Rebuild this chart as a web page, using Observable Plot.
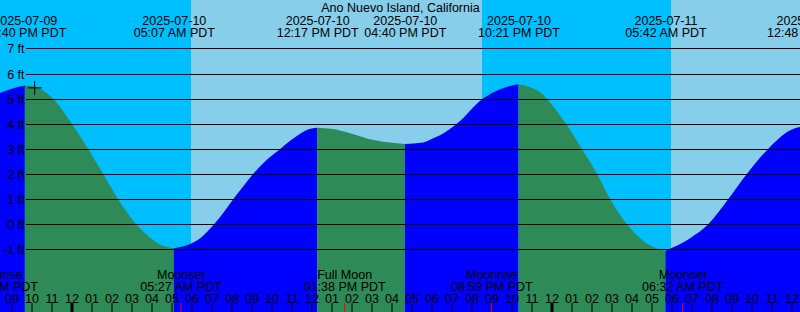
<!DOCTYPE html>
<html>
<head>
<meta charset="utf-8">
<script src="https://cdn.jsdelivr.net/npm/d3@7"></script>
<script src="https://cdn.jsdelivr.net/npm/@observablehq/plot@0.6"></script>
<style>
  html, body { margin: 0; padding: 0; overflow: hidden; background: #fff; color: #000; }
</style>
</head>
<body>
<div id="chart"></div>
<script>
// ---------- data (local PDT clock times) ----------
const title = "Ano Nuevo Island, California";

const tideTimes = [
  "2025-07-09T20:25", "2025-07-09T21:05", "2025-07-09T21:40", "2025-07-09T22:05",
  "2025-07-09T23:05", "2025-07-10T00:01", "2025-07-10T00:50", "2025-07-10T01:35",
  "2025-07-10T02:17", "2025-07-10T03:11", "2025-07-10T03:56", "2025-07-10T04:26",
  "2025-07-10T05:07", "2025-07-10T05:56", "2025-07-10T06:26", "2025-07-10T07:11",
  "2025-07-10T07:35", "2025-07-10T08:05", "2025-07-10T08:35", "2025-07-10T09:05",
  "2025-07-10T09:46", "2025-07-10T10:26", "2025-07-10T10:56", "2025-07-10T11:25",
  "2025-07-10T11:46", "2025-07-10T12:17", "2025-07-10T13:05", "2025-07-10T13:56",
  "2025-07-10T14:46", "2025-07-10T15:35", "2025-07-10T16:40", "2025-07-10T17:35",
  "2025-07-10T18:05", "2025-07-10T18:26", "2025-07-10T19:16", "2025-07-10T20:34",
  "2025-07-10T21:26", "2025-07-10T22:21", "2025-07-10T23:35", "2025-07-10T23:46",
  "2025-07-11T00:41", "2025-07-11T01:31", "2025-07-11T02:17", "2025-07-11T02:56",
  "2025-07-11T03:41", "2025-07-11T04:41", "2025-07-11T05:42", "2025-07-11T06:56",
  "2025-07-11T07:50", "2025-07-11T08:50", "2025-07-11T09:46", "2025-07-11T10:50",
  "2025-07-11T11:56", "2025-07-11T12:48"
];
const tideHeights = [
  5.22, 5.42, 5.53, 5.50,
  5.00, 4.00, 3.00, 2.00,
  1.06, 0.05, -0.53, -0.80,
  -0.95, -0.78, -0.55, 0.05,
  0.45, 1.00, 1.51, 2.00,
  2.57, 3.00, 3.33, 3.60,
  3.75, 3.84, 3.79, 3.62,
  3.42, 3.29, 3.20, 3.26,
  3.43, 3.55, 4.00, 5.00,
  5.38, 5.58, 5.17, 5.00,
  4.05, 3.00, 2.00, 1.00,
  0.10, -0.72, -1.05, -0.55,
  0.00, 1.00, 2.00, 3.00,
  3.74, 3.93
];

// high / low tide events (labelled at the top)
const extremeTimes = [
  "2025-07-09T21:40", "2025-07-10T05:07", "2025-07-10T12:17", "2025-07-10T16:40",
  "2025-07-10T22:21", "2025-07-11T05:42", "2025-07-11T12:48"
];

// moon events (labelled at the bottom)
const moonTimes = ["2025-07-09T20:15", "2025-07-10T05:27", "2025-07-10T13:38", "2025-07-10T20:59", "2025-07-11T06:32"];
const moonEvents = ["Moonrise", "Moonset", "Full Moon", "Moonrise", "Moonset"];

// daylight
const sunriseTimes = ["2025-07-10T05:58:30", "2025-07-11T05:58:30"];
const sunsetTimes  = ["2025-07-10T20:31:30", "2025-07-11T20:31:00"];

// current-time marker
const nowTime = "2025-07-09T22:08";
const nowHeight = 5.45;

const heightTicks = [-1, 0, 1, 2, 3, 4, 5, 6, 7];
const viewStart = "2025-07-09T20:25:30";
const viewEnd   = "2025-07-11T12:25:30";
const heightDomain = [-3.4896, 8.9284];

// ---------- helpers ----------
const parse = s => d3.utcParse(s.length > 16 ? "%Y-%m-%dT%H:%M:%S" : "%Y-%m-%dT%H:%M")(s);
const fmtDate = d3.utcFormat("%Y-%m-%d");
const fmtTime = d => d3.utcFormat("%I:%M %p")(d) + " PDT";
const fmtHour = d3.utcFormat("%I");

// split the tide curve into rising / falling stretches at each extreme
const extremeSet = new Set(extremeTimes);
const pts = tideTimes.map((t, i) => ({t: parse(t), h: tideHeights[i], ext: extremeSet.has(t)}));
const segs = [[]];
pts.forEach((p, i) => {
  segs[segs.length - 1].push(p);
  if (p.ext && i > 0 && i < pts.length - 1) segs.push([p]);
});
const tide = [];
segs.forEach((s, k) => {
  const phase = s[s.length - 1].h > s[0].h ? "rising" : "falling";
  s.forEach(p => tide.push({t: p.t, h: p.h, seg: k, phase}));
});

const days = sunriseTimes.map((s, i) => ({start: parse(s), end: parse(sunsetTimes[i])}));
const moon = moonTimes.map((t, i) => ({t: parse(t), name: moonEvents[i]}));
const hours = d3.utcHour.range(parse(viewStart), parse(viewEnd));
const font = "Liberation Sans, Arial, sans-serif";
const fs = 12.5;

const chart = Plot.plot({
  width: 800,
  height: 312,
  margin: 0,
  style: {fontFamily: font, fontSize: fs + "px", background: "#00bfff", overflow: "visible"},
  x: {type: "utc", domain: [parse(viewStart), parse(viewEnd)], axis: null},
  y: {domain: heightDomain, axis: null},
  color: {domain: ["rising", "falling"], range: ["#0000ff", "#2e8b57"]},
  marks: [
    Plot.frame({fill: "#00bfff", stroke: null}),
    Plot.rect(days, {x1: "start", x2: "end", fill: "#87ceeb", clip: true, shapeRendering: "crispEdges"}),
    Plot.areaY(tide, {x: "t", y1: heightDomain[0], y2: "h", z: "seg", fill: "phase", curve: "monotone-x", clip: true}),
    Plot.ruleY(heightTicks, {y: d => d, stroke: "#000", strokeWidth: 1, insetLeft: 26, shapeRendering: "crispEdges"}),
    Plot.text(heightTicks, {y: d => d, text: d => `${d} ft`, frameAnchor: "left", textAnchor: "end", dx: 24, dy: 0.5, lineAnchor: "middle", fill: "#000", fontSize: fs}),
    Plot.ruleX(hours.filter(d => d.getUTCHours() !== 0), {x: d => d, insetTop: 303, stroke: "#000", strokeWidth: 1}),
    Plot.ruleX(hours.filter(d => d.getUTCHours() === 0), {x: d => d, insetTop: 303, stroke: "#000", strokeWidth: 3}),
    Plot.ruleX(moon, {x: "t", insetTop: 303, stroke: "#ff0000", strokeWidth: 1}),
    Plot.text([title], {text: d => d, frameAnchor: "top", lineAnchor: "bottom", dy: 11.7, fill: "#000", fontSize: fs}),
    Plot.text(extremeTimes, {x: d => parse(d), text: d => `${fmtDate(parse(d))}\n${fmtTime(parse(d))}`, frameAnchor: "top", lineAnchor: "bottom", dy: 36, lineHeight: 0.94, fill: "#000", fontSize: fs}),
    Plot.text(moon, {x: "t", text: d => `${d.name}\n${fmtTime(d.t)}`, frameAnchor: "bottom", lineAnchor: "bottom", dy: -22, lineHeight: 0.94, fill: "#000", fontSize: fs}),
    Plot.text(hours, {x: d => d, text: d => fmtHour(d), frameAnchor: "bottom", lineAnchor: "bottom", dy: -10, fill: "#000", fontSize: fs}),
    Plot.dot([nowTime], {x: d => parse(d), y: () => nowHeight, symbol: "plus", r: 4.5, stroke: "#000", strokeWidth: 1})
  ]
});
document.getElementById("chart").appendChild(chart);
</script>
</body>
</html>
